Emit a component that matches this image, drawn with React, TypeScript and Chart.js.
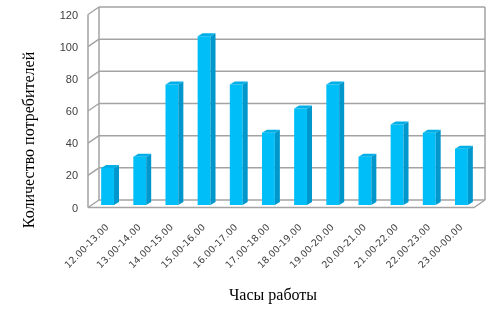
import React, { useEffect, useRef } from "react";
import { Chart, registerables } from "chart.js";

Chart.register(...registerables);

const categories = [
  "12.00-13.00", "13.00-14.00", "14.00-15.00", "15.00-16.00", "16.00-17.00", "17.00-18.00",
  "18.00-19.00", "19.00-20.00", "20.00-21.00", "21.00-22.00", "22.00-23.00", "23.00-00.00",
];
const consumers = [23, 30, 75, 105, 75, 45, 60, 75, 30, 50, 45, 35];
const yMin = 0;
const yMax = 120;
const yStep = 20;
const xTitle = "Часы работы";
const yTitle = "Количество потребителей";

const W = 502;
const H = 324;
// 3D offsets relative to the bar plane
const FDX = -3.5, FDY = 2.5; // front plane
const BDX = 7.5, BDY = -5; // back wall
const DEPTH_X = 5, DEPTH_Y = -3; // bar depth

const wallPlugin = {
  id: "walls3d",
  beforeDatasetsDraw(chart: any) {
    const { ctx, chartArea, scales } = chart;
    const y = scales.y;
    const L = chartArea.left, R = chartArea.right;
    ctx.save();
    ctx.strokeStyle = "#a3a3a3";
    ctx.lineWidth = 1.5;
    const line = (pts: number[][]) => {
      ctx.beginPath();
      ctx.moveTo(pts[0][0], pts[0][1]);
      for (let i = 1; i < pts.length; i++) ctx.lineTo(pts[i][0], pts[i][1]);
      ctx.stroke();
    };
    const top = y.getPixelForValue(yMax);
    const bot = y.getPixelForValue(yMin);
    for (let v = yMin; v <= yMax; v += yStep) {
      const p = y.getPixelForValue(v);
      line([[L + BDX, p + BDY], [R + BDX, p + BDY]]);
      line([[L + FDX, p + FDY], [L + BDX, p + BDY]]);
    }
    line([[L + FDX, top + FDY], [L + FDX, bot + FDY]]);
    line([[L + BDX, top + BDY], [L + BDX, bot + BDY]]);
    line([[R + BDX, top + BDY], [R + BDX, bot + BDY]]);
    line([[L + FDX, bot + FDY], [R + FDX, bot + FDY], [R + BDX, bot + BDY]]);
    ctx.restore();
  },
  afterDatasetsDraw(chart: any) {
    const { ctx } = chart;
    const meta = chart.getDatasetMeta(0);
    ctx.save();
    meta.data.forEach((bar: any) => {
      const { x, y, base, width } = bar.getProps(["x", "y", "base", "width"], true);
      const l = x - width / 2, r = x + width / 2;
      ctx.fillStyle = "#0098cc";
      ctx.beginPath();
      ctx.moveTo(r, y);
      ctx.lineTo(r + DEPTH_X, y + DEPTH_Y);
      ctx.lineTo(r + DEPTH_X, base + DEPTH_Y);
      ctx.lineTo(r, base);
      ctx.closePath();
      ctx.fill();
      ctx.fillStyle = "#00aee8";
      ctx.beginPath();
      ctx.moveTo(l, y);
      ctx.lineTo(l + DEPTH_X, y + DEPTH_Y);
      ctx.lineTo(r + DEPTH_X, y + DEPTH_Y);
      ctx.lineTo(r, y);
      ctx.closePath();
      ctx.fill();
    });
    ctx.restore();
  },
  afterDraw(chart: any) {
    const { ctx } = chart;
    ctx.save();
    ctx.fillStyle = "#000";
    ctx.font = "16px 'Liberation Serif', serif";
    ctx.textAlign = "center";
    ctx.textBaseline = "middle";
    ctx.fillText(xTitle, 273, 296);
    ctx.translate(30, 140);
    ctx.rotate(-Math.PI / 2);
    ctx.fillText(yTitle, 0, 0);
    ctx.restore();
  },
};

export default function App() {
  const ref = useRef<HTMLCanvasElement | null>(null);
  useEffect(() => {
    document.body.style.margin = "0";
    const canvas = ref.current!;
    const chart = new Chart(canvas, {
      type: "bar",
      data: {
        labels: categories,
        datasets: [
          {
            data: consumers,
            backgroundColor: "#00bff8",
            borderWidth: 0,
            barPercentage: 0.4,
            categoryPercentage: 1,
          },
        ],
      },
      options: {
        responsive: false,
        animation: false,
        devicePixelRatio: 1,
        layout: { padding: { left: 0, right: 24.5, top: 12, bottom: 0 } },
        plugins: { legend: { display: false }, tooltip: { enabled: false }, title: { display: false } },
        scales: {
          x: {
            grid: { display: false, drawTicks: false },
            border: { display: false },
            ticks: {
              autoSkip: false,
              minRotation: 45,
              maxRotation: 45,
              padding: 17,
              color: "#404040",
              font: { family: "'DejaVu Sans', Verdana, sans-serif", size: 9.5 },
            },
            afterFit: (s: any) => {
              s.height = 119;
              s.paddingLeft = 0;
              s.paddingRight = 0;
            },
          },
          y: {
            min: yMin,
            max: yMax,
            grid: { display: false, drawTicks: false },
            border: { display: false },
            ticks: {
              stepSize: yStep,
              padding: 13.5,
              labelOffset: 3.5,
              color: "#404040",
              font: { family: "'Liberation Sans', Arial, sans-serif", size: 11 },
            },
            afterFit: (s: any) => {
              s.width = 91.5;
              s.paddingTop = 0;
              s.paddingBottom = 0;
            },
          },
        },
      },
      plugins: [wallPlugin],
    });
    return () => chart.destroy();
  }, []);
  return <canvas ref={ref} width={W} height={H} style={{ display: "block" }} />;
}
